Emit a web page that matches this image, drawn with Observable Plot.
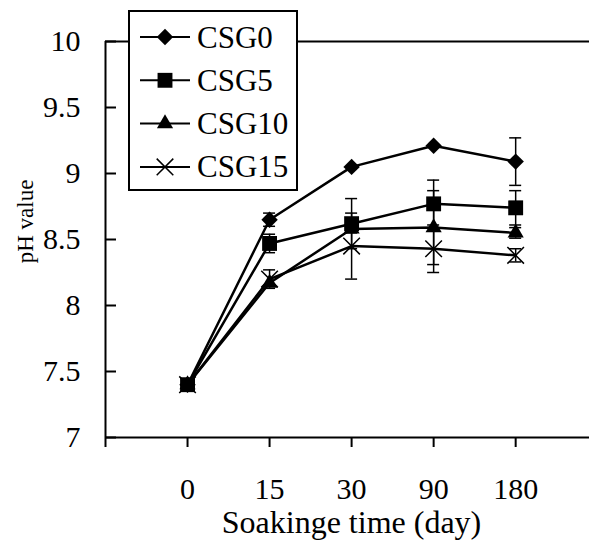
<!DOCTYPE html>
<html>
<head>
<meta charset="utf-8">
<script src="https://cdn.jsdelivr.net/npm/d3@7"></script>
<script src="https://cdn.jsdelivr.net/npm/@observablehq/plot@0.6"></script>
<style>
  html, body { margin: 0; padding: 0; background: #fff; }
  #chart { position: relative; width: 589px; height: 545px; }
</style>
</head>
<body>
<div id="chart"></div>
<script>
// ---- data ----
const days = ["0", "15", "30", "90", "180"];
const seriesNames = ["CSG0", "CSG5", "CSG10", "CSG15"];
const csg0  = [7.40, 8.65, 9.05, 9.21, 9.09];
const csg5  = [7.40, 8.47, 8.62, 8.77, 8.74];
const csg10 = [7.40, 8.17, 8.58, 8.59, 8.55];
const csg15 = [7.40, 8.20, 8.45, 8.43, 8.38];
const err0  = [0, 0.05, 0, 0, 0.18];
const err5  = [0, 0.07, 0.19, 0.18, 0.13];
const err10 = [0, 0, 0.03, 0.28, 0.04];
const err15 = [0, 0.07, 0.25, 0.18, 0.05];
const yTicks = [7, 7.5, 8, 8.5, 9, 9.5, 10];
const xLabel = "Soakinge time (day)";
const yLabel = "pH value";

const values = [csg0, csg5, csg10, csg15];
const errors = [err0, err5, err10, err15];
const symbolNames = ["diamond2", "square", "triangle", "times"];
const symbolR = [7.4, 8.4, 6.0, 7.6];
const filled = [true, true, true, false];

const rows = [];
seriesNames.forEach((s, k) => {
  days.forEach((d, i) => rows.push({series: s, k, i, day: d, v: values[k][i], e: errors[k][i]}));
});
const errRows = rows.filter(d => d.e > 0);

const font = "'Liberation Serif', 'Times New Roman', serif";

const dotMarks = seriesNames.map((s, k) =>
  Plot.dot(rows.filter(d => d.k === k), {
    x: "i", y: "v",
    symbol: symbolNames[k],
    r: symbolR[k],
    fill: filled[k] ? "black" : "none",
    stroke: "black",
    strokeWidth: filled[k] ? 0 : 1.5
  })
);

const plot = Plot.plot({
  width: 589,
  height: 545,
  marginLeft: 105,
  marginRight: 0,
  marginTop: 41,
  marginBottom: 108,
  style: {fontFamily: font, fontSize: "30px", background: "white", color: "black"},
  x: {type: "linear", domain: [-1, 4.9]},
  y: {domain: [7, 10]},
  marks: [
    Plot.ruleY([10], {stroke: "black", strokeWidth: 2}),
    Plot.ruleY([7], {stroke: "black", strokeWidth: 2}),
    Plot.ruleX([-1], {stroke: "black", strokeWidth: 2}),
    Plot.axisX({
      ticks: [-1, 0, 1, 2, 3, 4],
      tickFormat: i => (i < 0 ? "" : days[i]),
      tickSize: 10, tickPadding: 30, strokeWidth: 2,
      fontSize: 30, fontFamily: font, label: null
    }),
    Plot.axisY({
      ticks: yTicks, tickFormat: d => String(d),
      tickSize: 0, tickPadding: 25, fontSize: 30, fontFamily: font, label: null
    }),
    // inward y ticks
    Plot.tickY(yTicks, {y: d => d, insetRight: 473, stroke: "black", strokeWidth: 2}),
    Plot.line(rows, {x: "i", y: "v", z: "series", stroke: "black", strokeWidth: 2.5}),
    Plot.ruleX(errRows, {x: "i", y1: d => d.v - d.e, y2: d => d.v + d.e, stroke: "black", strokeWidth: 1.5}),
    Plot.ruleY(errRows, {y: d => d.v + d.e, x1: "i", x2: "i", insetLeft: -6, insetRight: -6, stroke: "black", strokeWidth: 1.5}),
    Plot.ruleY(errRows, {y: d => d.v - d.e, x1: "i", x2: "i", insetLeft: -6, insetRight: -6, stroke: "black", strokeWidth: 1.5}),
    ...dotMarks,
    Plot.text([xLabel], {frameAnchor: "bottom", textAnchor: "middle", dx: 4, dy: 85, text: d => d, fontSize: 32, fontFamily: font, lineAnchor: "middle", fill: "black"}),
    Plot.text([yLabel], {frameAnchor: "left", textAnchor: "middle", dx: -80, dy: -18, rotate: -90, text: d => d, fontSize: 23, fontFamily: font, lineAnchor: "middle", fill: "black"})
  ]
});

document.getElementById("chart").appendChild(plot);

// ---- legend (drawn on top of the plot's svg) ----
const svg = d3.select(plot);
const lg = svg.append("g").attr("class", "legend").attr("text-anchor", "start");
lg.append("rect")
  .attr("x", 129).attr("y", 11).attr("width", 168).attr("height", 179)
  .attr("fill", "white").attr("stroke", "black").attr("stroke-width", 2);
const symType = {
  diamond2: d3.symbolDiamond2, square: d3.symbolSquare,
  triangle: d3.symbolTriangle, times: d3.symbolTimes
};
seriesNames.forEach((s, k) => {
  const cy = 37 + k * 43.3;
  const g = lg.append("g").attr("transform", `translate(0,${cy})`);
  g.append("line").attr("x1", 140).attr("x2", 190).attr("y1", 0).attr("y2", 0)
    .attr("stroke", "black").attr("stroke-width", 2);
  g.append("path")
    .attr("transform", "translate(165,0)")
    .attr("d", d3.symbol(symType[symbolNames[k]], Math.PI * symbolR[k] * symbolR[k])())
    .attr("fill", filled[k] ? "black" : "none")
    .attr("stroke", filled[k] ? "none" : "black")
    .attr("stroke-width", 1.5);
  g.append("text").attr("x", 197).attr("y", 0).attr("dy", "0.34em")
    .attr("text-anchor", "start")
    .attr("font-family", font).attr("font-size", 31).attr("fill", "black")
    .text(s);
});
</script>
</body>
</html>
